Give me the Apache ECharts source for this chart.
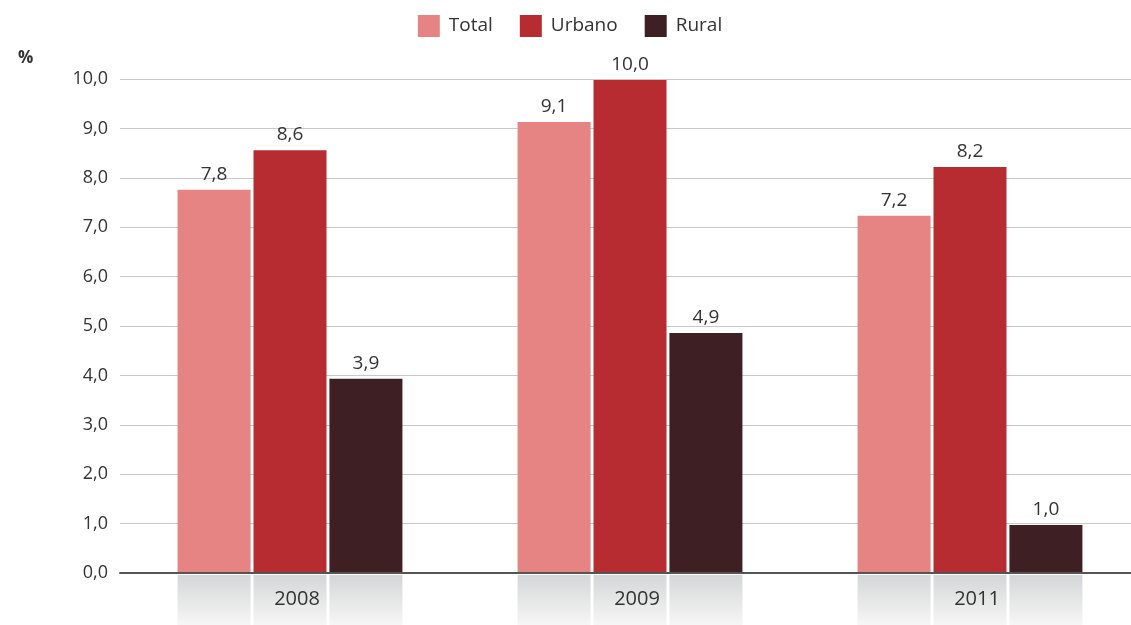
<!DOCTYPE html>
<html>
<head>
<meta charset="utf-8">
<script src="https://cdn.jsdelivr.net/npm/echarts@6/dist/echarts.min.js"></script>
<style>
html,body{margin:0;padding:0;background:#fff;overflow:hidden;}
#chart{width:1140px;height:625px;}
</style>
</head>
<body>
<div id="chart"></div>
<script>
var years = ['2008', '2009', '2011'];
var total = [7.76, 9.13, 7.23];
var urbano = [8.56, 9.98, 8.22];
var rural = [3.93, 4.86, 0.97];
var seriesNames = ['Total', 'Urbano', 'Rural'];
var colors = ['#e68383', '#b72c30', '#3e1f24'];
var yTicks = [0, 10, 1];

var myChart = echarts.init(document.getElementById('chart'));
var font = '"Open Sans", "Noto Sans", sans-serif';

function fmt(v) {
    return v.toFixed(1).replace('.', ',');
}

var barW = 73;
var gap = '4%';

var baseGradient = {
    type: 'linear', x: 0, y: 0, x2: 0, y2: 1,
    colorStops: [{offset: 0, color: '#d5d6d7'}, {offset: 1, color: '#f6f6f6'}]
};

function mainBar(i, data) {
    return {
        name: seriesNames[i],
        type: 'bar',
        data: data,
        barWidth: barW,
        barGap: gap,
        itemStyle: {color: colors[i]},
        label: {
            show: true,
            position: 'top',
            distance: 6,
            color: '#333',
            fontSize: 19,
            fontFamily: font,
            formatter: function (p) { return fmt(p.value); }
        }
    };
}

function baseBar() {
    return {
        type: 'bar',
        xAxisIndex: 1,
        yAxisIndex: 1,
        data: years.map(function () { return 1; }),
        barWidth: barW,
        barGap: gap,
        silent: true,
        z: 1,
        itemStyle: {color: baseGradient},
        tooltip: {show: false}
    };
}

var option = {
    animation: false,
    legend: {
        data: seriesNames,
        top: 10,
        left: 'center',
        icon: 'rect',
        itemWidth: 22,
        itemHeight: 22,
        itemGap: 27,
        textStyle: {fontSize: 19, color: '#333', fontFamily: font, padding: [0, 0, 0, 4]}
    },
    grid: [
        {left: 120, right: 0, top: 79, bottom: 52},
        {left: 120, right: 0, top: 575, bottom: 0}
    ],
    xAxis: [
        {
            type: 'category',
            data: years,
            gridIndex: 0,
            z: 10,
            axisLine: {lineStyle: {color: '#555', width: 2}},
            axisTick: {show: false},
            axisLabel: {
                margin: 16,
                fontSize: 20,
                color: '#333',
                fontFamily: font,
                padding: [0, 0, 0, 14]
            }
        },
        {
            type: 'category',
            data: years,
            gridIndex: 1,
            show: false
        }
    ],
    yAxis: [
        {
            type: 'value',
            gridIndex: 0,
            min: yTicks[0],
            max: yTicks[1],
            interval: yTicks[2],
            name: '%',
            nameLocation: 'end',
            nameGap: 12,
            nameTextStyle: {
                fontSize: 17,
                fontWeight: 'bold',
                color: '#333',
                fontFamily: font,
                align: 'left',
                padding: [0, 0, 0, -102]
            },
            axisLine: {show: false},
            axisTick: {show: false},
            splitLine: {lineStyle: {color: '#c8c8c8', width: 1}},
            axisLabel: {
                margin: 12,
                fontSize: 18,
                color: '#333',
                fontFamily: font,
                formatter: function (v) { return fmt(v); }
            }
        },
        {
            type: 'value',
            gridIndex: 1,
            min: 0,
            max: 1,
            show: false
        }
    ],
    series: [
        mainBar(0, total),
        mainBar(1, urbano),
        mainBar(2, rural),
        baseBar(),
        baseBar(),
        baseBar()
    ]
};

myChart.setOption(option);
</script>
</body>
</html>
